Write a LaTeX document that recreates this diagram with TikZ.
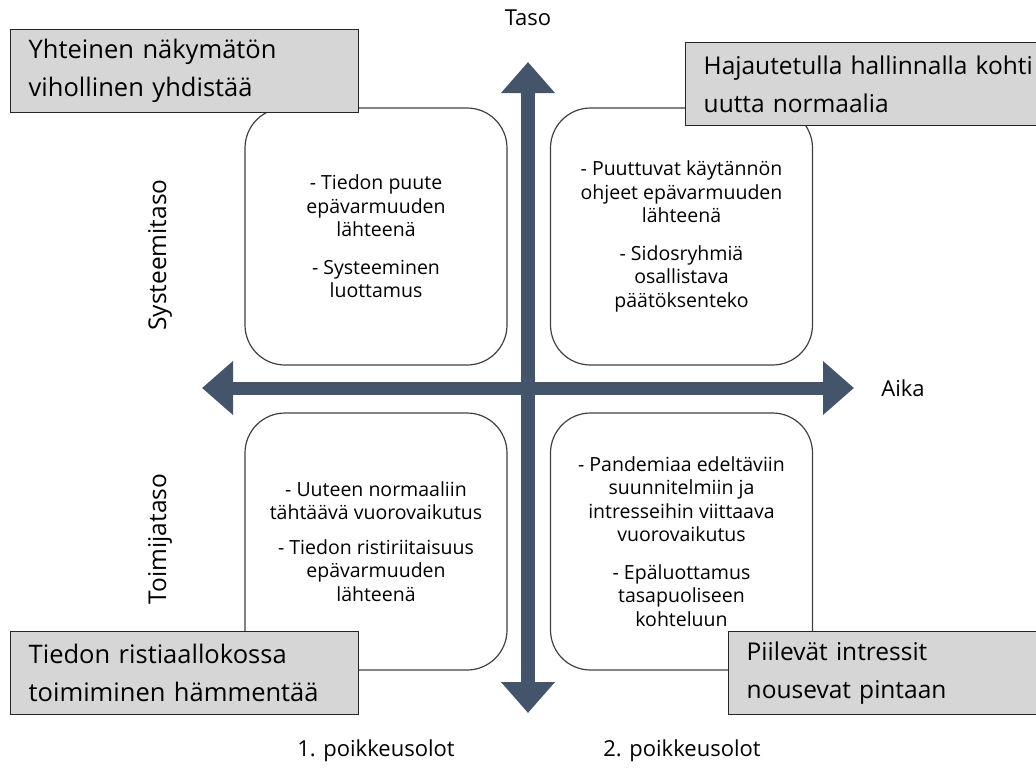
\documentclass[tikz,border=0pt]{standalone}
\usepackage{fontspec}
\setmainfont{Open Sans}
\usetikzlibrary{arrows.meta}
\definecolor{axisblue}{HTML}{44546A}
\definecolor{labelgray}{HTML}{D6D6D6}
\definecolor{framegray}{HTML}{404040}
\begin{document}
\begin{tikzpicture}[x=1pt,y=-1pt,
  quad/.style={draw=framegray,line width=1.2pt,rounded corners=40pt,
    minimum width=262pt,minimum height=257pt,align=center,
    font=\fontsize{19.5}{23.5}\selectfont,inner sep=0pt},
  tag/.style={draw=black!85,line width=1.4pt,fill=labelgray,
    minimum height=83pt,text width=312pt,align=left,
    font=\fontsize{25.5}{38}\selectfont,inner xsep=18pt,inner ysep=0pt,
    anchor=north west},
  widetag/.style={tag,text width=400pt,font=\fontsize{24.5}{38}\selectfont},
  axis/.style={draw=axisblue,line width=14pt,
    {Triangle[length=31pt,width=52pt]}-{Triangle[length=31pt,width=52pt]}},
  axislabel/.style={font=\fontsize{22}{26}\selectfont},
  sidelabel/.style={font=\fontsize{24.5}{28}\selectfont,rotate=90}]
\useasboundingbox (0,0) rectangle (1036,771);

% quadrant boxes
\node[quad] (tl) at (376,236.5) {- Tiedon puute\\epävarmuuden\\lähteenä\\[14pt]- Systeeminen\\luottamus};
\node[quad] (tr) at (681.5,236.5) {- Puuttuvat käytännön\\ohjeet epävarmuuden\\lähteenä\\[14pt]- Sidosryhmiä\\osallistava\\päätöksenteko};
\node[quad] (bl) at (376,541.5) {- Uuteen normaaliin\\tähtäävä vuorovaikutus\\[11pt]- Tiedon ristiriitaisuus\\epävarmuuden\\lähteenä};
\node[quad] (br) at (681.5,541.5) {- Pandemiaa edeltäviin\\suunnitelmiin ja\\intresseihin viittaava\\vuorovaikutus\\[14pt]- Epäluottamus\\tasapuoliseen\\kohteluun};

% axes
\coordinate (top) at (528,62);
\coordinate (bottom) at (528,713);
\coordinate (left) at (202,388);
\coordinate (right) at (854,388);
\draw[axis] (bottom) -- (top);
\draw[axis,line width=13pt] (left) -- (right);

% axis labels
\node[axislabel] (taso) at (528,18) {Taso};
\node[axislabel] (aika) at (903,388) {Aika};
\node[sidelabel] (systeemi) at (160,255) {Systeemitaso};
\node[sidelabel] (toimija) at (160,539) {Toimijataso};
\node[axislabel] (p1) at (376,751) {1. poikkeusolot};
\node[axislabel] (p2) at (682,751) {2. poikkeusolot};

% corner captions
\node[tag] (ctl) at (10,29) {Yhteinen näkymätön\\vihollinen yhdistää};
\node[widetag] (ctr) at (685,42) {Hajautetulla hallinnalla kohti\\uutta normaalia};
\node[tag] (cbl) at (10,631) {Tiedon ristiaallokossa\\toimiminen hämmentää};
\node[widetag] (cbr) at (728,631) {Piilevät intressit\\nousevat pintaan};
\end{tikzpicture}
\end{document}
